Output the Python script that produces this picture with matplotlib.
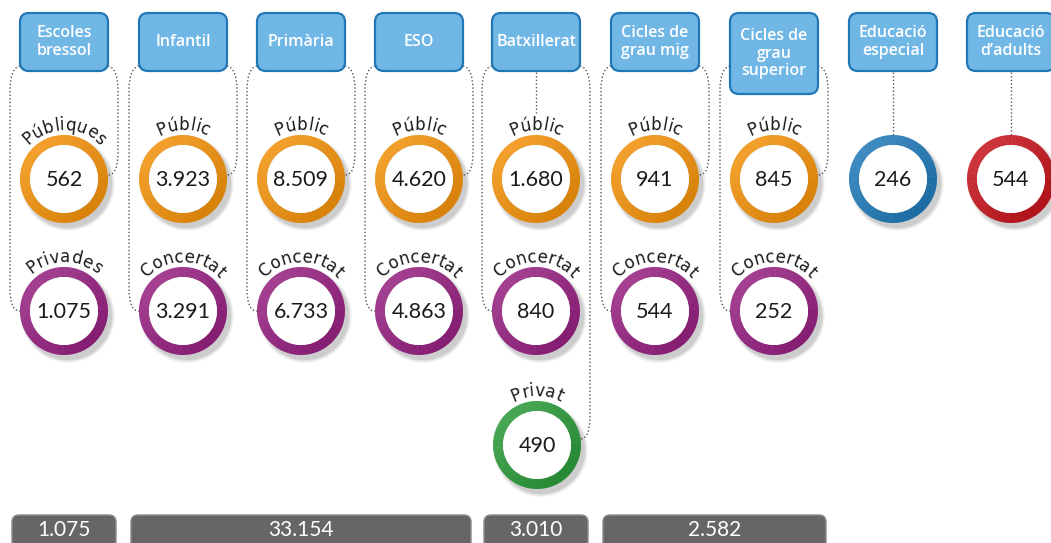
import numpy as np
import matplotlib
matplotlib.use('Agg')
import matplotlib.pyplot as plt
from matplotlib.patches import FancyBboxPatch, Circle, Wedge, PathPatch
from matplotlib.path import Path
from matplotlib.font_manager import FontProperties
from matplotlib.textpath import TextToPath
from matplotlib.colors import to_rgb

# data
categories = ['Escoles\nbressol', 'Infantil', 'Primària', 'ESO', 'Batxillerat',
              'Cicles de\ngrau mig', 'Cicles de\ngrau\nsuperior',
              'Educació\nespecial', 'Educació\nd’adults']
public_labels = ['Públiques', 'Públic', 'Públic', 'Públic', 'Públic', 'Públic', 'Públic']
public_values = [562, 3923, 8509, 4620, 1680, 941, 845]
private_labels = ['Privades', 'Concertat', 'Concertat', 'Concertat', 'Concertat', 'Concertat', 'Concertat']
private_values = [1075, 3291, 6733, 4863, 840, 544, 252]
privat_label = 'Privat'
privat_value = 490
single_values = [246, 544]
totals = [1075, 33154, 3010, 2582]
total_spans = [(0, 0), (1, 3), (4, 4), (5, 6)]

def fmt(v):
    return f'{v:,}'.replace(',', '.')

# layout (pixels)
col_x = [64, 183, 301, 419, 536, 655, 774, 893, 1011]
row_y = [179, 311, 445]
R_OUT, R_IN = 44, 34
ORANGE, PURPLE, GREEN, BLUE, RED = '#f0900a', '#94207f', '#2a9838', '#1f78b6', '#c4151c'
NUM_FONT = 'Lato'
LBL_FONT = 'DejaVu Sans'

fig = plt.figure(figsize=(10.51, 5.43), dpi=100)
ax = fig.add_axes([0, 0, 1, 1])
ax.set_xlim(0, 1051)
ax.set_ylim(543, 0)
ax.axis('off')

ttp = TextToPath()

def curved_text(cx, cy, s, R=49, size=12, spacing=1.0):
    fp = FontProperties(family=LBL_FONT, size=size)
    ws = []
    for ch in s:
        w, h, d = ttp.get_text_width_height_descent(ch, fp, ismath=False)
        ws.append(w * 100 / 72 * spacing)
    total = sum(ws)
    pos = -total / 2
    for ch, w in zip(s, ws):
        th = (pos + w / 2) / R
        x = cx + R * np.sin(th)
        y = cy - R * np.cos(th)
        ax.text(x, y, ch, fontproperties=fp, color='#1a1a1a', rotation=-np.degrees(th),
                ha='center', va='baseline', rotation_mode='anchor', zorder=6)
        pos += w

def ring(cx, cy, color, value):
    # drop shadow
    for k, a in enumerate([0.04, 0.05, 0.07, 0.09]):
        ax.add_patch(Circle((cx + 4, cy + 5), R_OUT + 3 - k, color='#303030', alpha=a, lw=0, zorder=2))
    base = np.array(to_rgb(color))
    light = base + (1 - base) * 0.13
    dark = base * 0.9
    n = 90
    for j in range(n):
        a0 = 360 * j / n
        mid = np.radians(a0 + 2)
        # y axis is inverted, so 225 deg in data is the upper-left on screen
        t = (np.cos(mid - np.radians(225)) + 1) / 2
        c = dark + (light - dark) * t
        ax.add_patch(Wedge((cx, cy), R_OUT, a0, a0 + 360 / n + 0.6, width=R_OUT - R_IN,
                           color=c, lw=0, zorder=3))
    ax.add_patch(Circle((cx, cy), R_IN, color='white', lw=0, zorder=5))
    ax.text(cx, cy + 1, fmt(value), fontsize=15.5, family=NUM_FONT,
            color='#1a1a1a', ha='center', va='center', zorder=6)

def dotted(verts, codes):
    ax.add_patch(PathPatch(Path(verts, codes), fill=False, edgecolor='#555555', lw=1.0,
                           linestyle=(0, (1, 1.6)), zorder=1))

def bracket(xs, ys, xo, ye, xe):
    verts = [(xs, ys), (xo, ys + 2), (xo, ys + 24), (xo, ye - 22), (xo, ye), (xe, ye)]
    codes = [Path.MOVETO, Path.CURVE3, Path.CURVE3, Path.LINETO, Path.CURVE3, Path.CURVE3]
    dotted(verts, codes)

def vline(x, y0, y1):
    dotted([(x, y0), (x, y1)], [Path.MOVETO, Path.LINETO])

# header boxes
for i, (cx, name) in enumerate(zip(col_x, categories)):
    h = 81 if i == 6 else 58
    ax.add_patch(FancyBboxPatch((cx - 44, 13), 88, h, boxstyle='round,pad=0,rounding_size=9',
                                facecolor='#70b7e6', edgecolor='#2178b6', lw=1.6, zorder=4))
    ax.text(cx, 13 + h / 2, name, fontsize=11.5, family='Open Sans', fontweight='semibold',
            color='white', ha='center', va='center', linespacing=1.1, zorder=5)

# connectors
for i in range(7):
    cx = col_x[i]
    bracket(cx - 44, 66, cx - 54, row_y[1], cx - 44)
    if i == 4:
        bracket(cx + 44, 66, cx + 54, row_y[2] - 6, cx + 44)
        vline(cx, 72, 113)
    else:
        bracket(cx + 44, 66, cx + 54, row_y[0] - 4, cx + 44)
for cx in col_x[7:]:
    vline(cx, 72, 136)

# circles
for i in range(7):
    cx = col_x[i]
    ring(cx, row_y[0], ORANGE, public_values[i])
    curved_text(cx, row_y[0], public_labels[i])
    ring(cx, row_y[1], PURPLE, private_values[i])
    curved_text(cx, row_y[1], private_labels[i])
ring(col_x[4] + 1, row_y[2], GREEN, privat_value)
curved_text(col_x[4] + 1, row_y[2], privat_label)
ring(col_x[7], row_y[0], BLUE, single_values[0])
ring(col_x[8], row_y[0], RED, single_values[1])

# totals bars
for (a, b), v in zip(total_spans, totals):
    x0 = col_x[a] - 52
    x1 = col_x[b] + 52
    ax.add_patch(FancyBboxPatch((x0, 515), x1 - x0, 40, boxstyle='round,pad=0,rounding_size=7',
                                facecolor='#666666', edgecolor='#8c8c8c', lw=1.0, zorder=4))
    ax.text((x0 + x1) / 2, 530, fmt(v), fontsize=15, family=NUM_FONT,
            color='white', ha='center', va='center', zorder=5)

fig.savefig('out.png', dpi=100, facecolor='white')
